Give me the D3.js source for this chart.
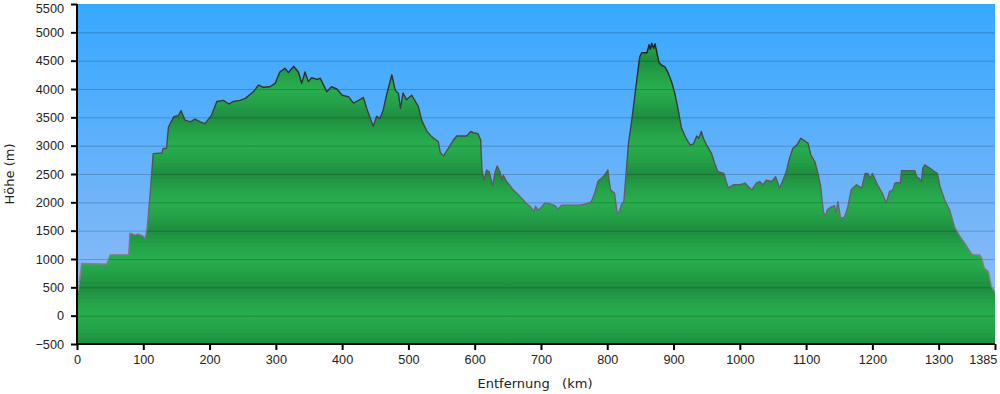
<!DOCTYPE html>
<html>
<head>
<meta charset="utf-8">
<script src="https://cdn.jsdelivr.net/npm/d3@7"></script>
<style>
  body { margin: 0; background: #fff; }
  svg { display: block; font-family: "DejaVu Sans", Verdana, sans-serif; }
  .tick text { font-size: 12.7px; fill: #222; }
  .title { font-size: 13px; fill: #222; white-space: pre; }
</style>
</head>
<body>
<svg id="chart"></svg>
<script>
// Route profile: distance (km) and elevation (m)
const distanceKm = [
  0, 2, 7, 45, 50, 78, 80, 88, 92, 100, 103, 106, 110, 115, 128, 130, 135, 138, 141, 146,
  153, 157, 163, 171, 178, 186, 193, 203, 211, 221, 229, 236, 246, 254, 266, 274, 281, 291, 299, 306,
  314, 319, 327, 334, 339, 344, 349, 354, 362, 367, 377, 384, 392, 400, 410, 417, 425, 432, 437, 447,
  452, 457, 462, 467, 475, 480, 485, 488, 492, 497, 505, 515, 520, 528, 535, 545, 548, 553, 560, 568,
  573, 588, 594, 598, 605, 609, 611, 614, 618, 622, 627, 631, 634, 638, 641, 643, 648, 653, 658, 666,
  671, 678, 684, 689, 692, 696, 701, 706, 714, 721, 726, 731, 744, 759, 768, 776, 781, 786, 791, 796,
  801, 802, 805, 811, 815, 818, 822, 825, 828, 832, 837, 843, 849, 852, 860, 863, 865, 867, 870, 872,
  874, 878, 882, 887, 892, 897, 902, 907, 912, 919, 925, 930, 935, 938, 942, 945, 950, 957, 962, 967,
  976, 980, 983, 990, 1000, 1008, 1012, 1018, 1025, 1030, 1035, 1040, 1048, 1054, 1060, 1065, 1070, 1075, 1080, 1086,
  1092, 1096, 1103, 1107, 1113, 1118, 1122, 1126, 1129, 1132, 1138, 1143, 1145, 1148, 1152, 1158, 1163, 1168, 1176, 1184,
  1189, 1193, 1197, 1200, 1209, 1215, 1221, 1226, 1231, 1234, 1239, 1242, 1244, 1264, 1267, 1271, 1274, 1276, 1279, 1287,
  1294, 1298, 1302, 1309, 1317, 1324, 1332, 1341, 1349, 1352, 1362, 1365, 1369, 1375, 1380, 1385
];
const elevationM = [
  420, 450, 920, 910, 1070, 1075, 1450, 1420, 1440, 1400, 1350, 1550, 2100, 2860, 2870, 2950, 2950, 3330, 3400, 3510,
  3530, 3617, 3450, 3420, 3470, 3420, 3390, 3540, 3780, 3800, 3735, 3780, 3800, 3835, 3950, 4070, 4030, 4040, 4100, 4300,
  4365, 4290, 4400, 4300, 4100, 4300, 4130, 4200, 4170, 4190, 3950, 4040, 4000, 3890, 3860, 3750, 3800, 3850, 3660, 3340,
  3520, 3480, 3630, 3890, 4250, 3980, 3920, 3660, 3930, 3810, 3890, 3690, 3450, 3250, 3160, 3070, 2880, 2820, 2950, 3100,
  3170, 3170, 3250, 3230, 3210, 3100, 2570, 2390, 2570, 2540, 2290, 2540, 2640, 2540, 2390, 2480, 2370, 2300, 2220, 2130,
  2070, 1980, 1920, 1840, 1930, 1860, 1920, 1990, 1970, 1940, 1880, 1950, 1950, 1950, 1970, 2010, 2160, 2370, 2420, 2480,
  2570, 2450, 2220, 2160, 1810, 1830, 1980, 2010, 2450, 3040, 3450, 4010, 4570, 4640, 4640, 4780, 4700, 4810, 4720, 4800,
  4690, 4470, 4420, 4390, 4280, 4130, 3920, 3630, 3310, 3130, 3010, 3030, 3170, 3130, 3250, 3130, 3010, 2870, 2690, 2540,
  2510, 2340, 2250, 2310, 2310, 2340, 2290, 2220, 2340, 2370, 2310, 2390, 2370, 2450, 2250, 2390, 2540, 2780, 2950, 3010,
  3130, 3100, 3040, 2840, 2720, 2510, 2280, 1840, 1750, 1870, 1920, 1940, 1800, 2010, 1720, 1740, 1920, 2220, 2310, 2250,
  2510, 2510, 2420, 2510, 2280, 2160, 1990, 2190, 2220, 2340, 2350, 2330, 2560, 2560, 2450, 2420, 2360, 2600, 2660, 2600,
  2540, 2510, 2280, 2040, 1850, 1560, 1400, 1250, 1100, 1070, 1070, 1010, 840, 780, 510, 420
];

const xTicks = [0, 100, 200, 300, 400, 500, 600, 700, 800, 900, 1000, 1100, 1200, 1300, 1385];
const yTicks = [-500, 0, 500, 1000, 1500, 2000, 2500, 3000, 3500, 4000, 4500, 5000, 5500];

const width = 1000;
const height = 394;
const margin = { top: 4, right: 5, bottom: 50, left: 77 };

function drawProfile() {
  const svg = d3.select("#chart").attr("width", width).attr("height", height);

  const x = d3.scaleLinear().domain([0, 1385]).range([margin.left, width - margin.right]);
  const y = d3.scaleLinear().domain([-500, 5500]).range([height - margin.bottom, margin.top]);

  const data = distanceKm.map((d, i) => ({ km: d, h: elevationM[i] }));
  const defs = svg.append("defs");

  // Sky: blue getting lighter towards the ground
  const sky = defs.append("linearGradient")
    .attr("id", "sky")
    .attr("gradientUnits", "userSpaceOnUse")
    .attr("x1", 0).attr("x2", 0)
    .attr("y1", y(5500)).attr("y2", y(-500));
  [["0%", "#38a8fe"], ["30%", "#52aefc"], ["60%", "#72b5f9"], ["85%", "#8cbaf6"], ["100%", "#98bef5"]]
    .forEach(([o, c]) => sky.append("stop").attr("offset", o).attr("stop-color", c));

  // Terrain: light at every full 1000 m, darker in between
  const ground = defs.append("linearGradient")
    .attr("id", "ground")
    .attr("gradientUnits", "userSpaceOnUse")
    .attr("spreadMethod", "reflect")
    .attr("x1", 0).attr("x2", 0)
    .attr("y1", y(0)).attr("y2", y(500));
  ground.append("stop").attr("offset", "0%").attr("stop-color", "#28ae4e");
  ground.append("stop").attr("offset", "50%").attr("stop-color", "#24a148");
  ground.append("stop").attr("offset", "100%").attr("stop-color", "#1e8d3f");

  // Outline darkens with altitude
  const edge = defs.append("linearGradient")
    .attr("id", "edge")
    .attr("gradientUnits", "userSpaceOnUse")
    .attr("x1", 0).attr("x2", 0)
    .attr("y1", y(500)).attr("y2", y(4800));
  edge.append("stop").attr("offset", "0%").attr("stop-color", "#8c8c8c");
  edge.append("stop").attr("offset", "100%").attr("stop-color", "#1e1e1e");

  svg.append("rect")
    .attr("x", x(0))
    .attr("y", y(5500))
    .attr("width", x(1385) - x(0))
    .attr("height", y(-500) - y(5500))
    .attr("fill", "url(#sky)");

  const area = d3.area()
    .x((d) => x(d.km))
    .y0(y(-500))
    .y1((d) => y(d.h));

  const line = d3.line()
    .x((d) => x(d.km))
    .y((d) => y(d.h));

  svg.append("path").datum(data).attr("d", area).attr("fill", "url(#ground)");

  // Grid lines lie over sky and terrain alike
  svg.append("g")
    .selectAll("line")
    .data(yTicks.filter((t) => t > -500 && t < 5500))
    .enter()
    .append("line")
    .attr("x1", x(0))
    .attr("x2", x(1385))
    .attr("y1", (d) => y(d) + 0.5)
    .attr("y2", (d) => y(d) + 0.5)
    .attr("stroke", "#000")
    .attr("stroke-opacity", 0.2);

  svg.append("path")
    .datum(data)
    .attr("d", line)
    .attr("fill", "none")
    .attr("stroke", "url(#edge)")
    .attr("stroke-width", 1.4)
    .attr("stroke-linejoin", "round");

  const xAxis = svg.append("g")
    .attr("transform", `translate(0,${y(-500)})`)
    .call(d3.axisBottom(x).tickValues(xTicks).tickFormat(d3.format("d")).tickSize(6).tickPadding(5));

  const yAxis = svg.append("g")
    .attr("transform", `translate(${x(0)},0)`)
    .call(d3.axisLeft(y).tickValues(yTicks).tickFormat(d3.format("d")).tickSize(6).tickPadding(7));

  [xAxis, yAxis].forEach((g) => {
    g.select(".domain").attr("stroke", "#000").attr("stroke-width", 2);
    g.selectAll(".tick line").attr("stroke", "#000").attr("stroke-width", 2);
    g.selectAll(".tick text").attr("font-family", null).attr("font-size", null);
  });
  yAxis.select(".domain").attr("d", `M0,${y(5500)}V${y(-500) + 1}`);
  xAxis.select(".domain").attr("d", `M${x(0) - 1},0H${x(1385)}`);

  // Last distance label sits left of its tick so it stays inside the picture
  xAxis.selectAll(".tick text").filter((d) => d === 1385).attr("text-anchor", "end").attr("dx", "0.15em");

  // Top label would poke out of the picture, push it down a little
  yAxis.selectAll(".tick text").filter((d) => d === 5500).attr("dy", "0.65em");

  svg.append("text")
    .attr("class", "title")
    .attr("x", 535)
    .attr("y", 388)
    .attr("text-anchor", "middle")
    .text("Entfernung   (km)");

  svg.append("text")
    .attr("class", "title")
    .attr("transform", `translate(14,${(y(5500) + y(-500)) / 2}) rotate(-90)`)
    .attr("text-anchor", "middle")
    .text("Höhe (m)");
}

drawProfile();
</script>
</body>
</html>
